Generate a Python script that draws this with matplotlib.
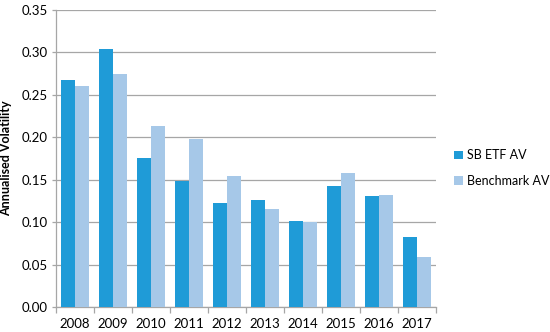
import matplotlib
matplotlib.use("Agg")
import matplotlib.pyplot as plt
import numpy as np
from matplotlib.patches import Patch

years = ["2008", "2009", "2010", "2011", "2012", "2013", "2014", "2015", "2016", "2017"]
sb_etf_av = [0.267, 0.304, 0.175, 0.149, 0.122, 0.126, 0.101, 0.143, 0.131, 0.082]
benchmark_av = [0.260, 0.274, 0.213, 0.198, 0.154, 0.116, 0.100, 0.158, 0.132, 0.059]
yticks = [0.00, 0.05, 0.10, 0.15, 0.20, 0.25, 0.30, 0.35]

plt.rcParams['font.family'] = ['Lato', 'DejaVu Sans']

c_sb = "#1F9BD7"
c_bm = "#A6C8E8"
grid_c = "#A6A6A6"

fig = plt.figure(figsize=(5.5, 3.32), dpi=100)
ax = fig.add_axes([0.102, 0.0753, 0.691, 0.895])

x = np.arange(len(years))
w = 0.368
ax.bar(x - w / 2, sb_etf_av, width=w, color=c_sb, zorder=3)
ax.bar(x + w / 2, benchmark_av, width=w, color=c_bm, zorder=3)

ax.set_xlim(-0.5, len(years) - 0.5)
ax.set_ylim(0, 0.35)
ax.set_yticks(yticks)
ax.set_yticklabels([f"{v:.2f}" for v in yticks], fontsize=9.5)
ax.yaxis.grid(True, color=grid_c, linewidth=0.9, zorder=0)

ax.set_xticks(x)
ax.set_xticklabels(years, fontsize=9.5)
ax.tick_params(axis='x', which='major', length=0, pad=8)
ax.set_xticks(np.arange(-0.5, len(years), 1.0), minor=True)
ax.tick_params(axis='x', which='minor', length=4, color=grid_c, width=0.9)
ax.tick_params(axis='y', length=3, color=grid_c, width=0.9, pad=3)

for s in ['top', 'right']:
    ax.spines[s].set_visible(False)
for s in ['left', 'bottom']:
    ax.spines[s].set_color(grid_c)
    ax.spines[s].set_linewidth(0.9)

ax.set_ylabel("Annualised Volatility", fontsize=9, fontweight='bold', labelpad=7)

handles = [Patch(facecolor=c_sb, label="SB ETF AV"), Patch(facecolor=c_bm, label="Benchmark AV")]
fig.legend(handles=handles, loc='center left', bbox_to_anchor=(0.826, 0.493), frameon=False,
           fontsize=9, handlelength=0.7, handleheight=0.7, handletextpad=0.35, labelspacing=1.1,
           borderaxespad=0, borderpad=0)

fig.savefig("out.png", dpi=100)
